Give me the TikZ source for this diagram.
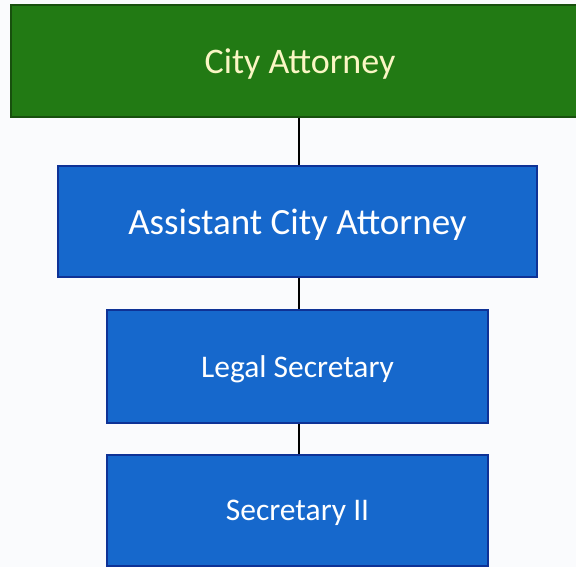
\documentclass[tikz,border=0pt]{standalone}
\usepackage{fontspec}
\setmainfont{Carlito}
\usepackage{tikz}
\usetikzlibrary{positioning}
\definecolor{paper}{RGB}{250,251,253}
\definecolor{chiefgreen}{RGB}{34,122,20}
\definecolor{chiefedge}{RGB}{24,80,14}
\definecolor{staffblue}{RGB}{22,104,204}
\definecolor{staffedge}{RGB}{14,50,150}
\definecolor{chieftext}{RGB}{250,246,196}
\tikzset{
	bevel/.style={path picture={
		\fill[white,opacity=.25] (path picture bounding box.north west) -- (path picture bounding box.north east)
			-- ([xshift=-5pt,yshift=5pt]path picture bounding box.north east) -- ([xshift=5pt,yshift=5pt]path picture bounding box.north west) -- cycle;}},
	chiefbox/.style={bevel,draw=chiefedge,fill=chiefgreen,line width=1.2pt,text=chieftext,font=\fontsize{36}{42}\selectfont,inner sep=0pt,text depth=0pt},
	staffbox/.style={bevel,draw=staffedge,fill=staffblue,line width=1.2pt,text=white,inner sep=0pt,text depth=0pt},
	link/.style={line width=2.4pt,black}
}
\begin{document}
\begin{tikzpicture}[x=1pt,y=-1pt]
		\useasboundingbox[fill=paper] (0,0) rectangle (576,567);
		\node[chiefbox,minimum width=578pt,minimum height=112pt] (attorney) at (300,61) {City Attorney};
		\node[staffbox,minimum width=479pt,minimum height=111pt,font=\fontsize{37}{43}\selectfont] (assistant) at (297.5,221.5) {Assistant City Attorney};
		\node[staffbox,minimum width=381pt,minimum height=113pt,font=\fontsize{31.5}{37}\selectfont] (legal) at (297.5,366.5) {Legal Secretary};
		\node[staffbox,minimum width=381pt,minimum height=111pt,font=\fontsize{31.5}{37}\selectfont] (secretary) at (297.5,510.5) {Secretary II};
		\coordinate (spine) at (299,0);
		\draw[link] (attorney.south -| spine) -- (assistant.north -| spine);
		\draw[link] (assistant.south -| spine) -- (legal.north -| spine);
		\draw[link] (legal.south -| spine) -- (secretary.north -| spine);
	\end{tikzpicture}
\end{document}
